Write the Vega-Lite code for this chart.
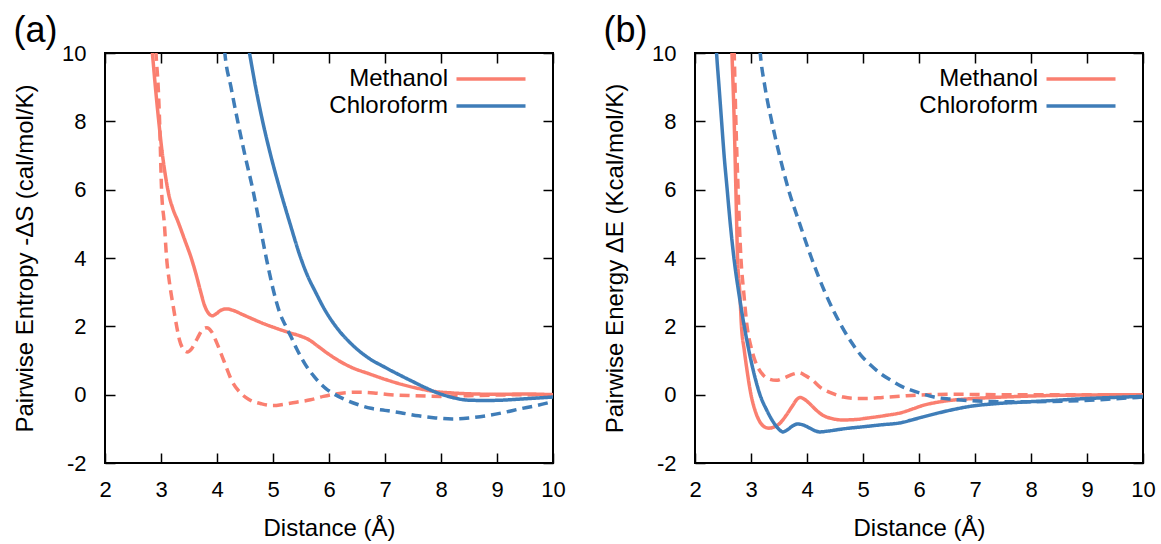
{
 "$schema": "https://vega.github.io/schema/vega-lite/v6.json",
 "background": "white",
 "padding": {"left": 12, "top": 12, "right": 15, "bottom": 0},
 "bounds": "flush",
 "spacing": 142,
 "config": {
  "font": "Liberation Sans",
  "view": {"stroke": "black", "strokeWidth": 2},
  "axis": {"grid": false, "domain": false, "ticks": true, "tickSize": -10, "tickColor": "black", "tickWidth": 1.5,
   "labelFont": "Liberation Sans", "labelFontSize": 22, "labelColor": "black", "labelPadding": 29, "labelFlush": false,
   "labelExpr": "'' + datum.value",
   "titleFont": "Liberation Sans", "titleFontSize": 24, "titleFontWeight": "normal", "titleColor": "black"},
  "axisX": {"labelPadding": 26, "titlePadding": 16},
  "legend": {"symbolType": "M-4,0H4", "symbolSize": 297.6, "symbolStrokeWidth": 3.5,
   "labelFont": "Liberation Sans", "labelFontSize": 24, "labelColor": "black", "labelAlign": "right", "labelOffset": -55,
   "rowPadding": 3, "padding": 0},
  "title": {"font": "Liberation Sans", "fontSize": 36, "fontWeight": "normal", "color": "black", "anchor": "start", "frame": "bounds"}
 },
 "data": {"values": [
  {"panel":"a","solvent":"Methanol","curve":"A","x":2.79,"y":11},
  {"panel":"a","solvent":"Methanol","curve":"A","x":2.846,"y":10},
  {"panel":"a","solvent":"Methanol","curve":"A","x":2.9,"y":9},
  {"panel":"a","solvent":"Methanol","curve":"A","x":2.96,"y":8},
  {"panel":"a","solvent":"Methanol","curve":"A","x":3.02,"y":7.1},
  {"panel":"a","solvent":"Methanol","curve":"A","x":3.08,"y":6.4},
  {"panel":"a","solvent":"Methanol","curve":"A","x":3.14,"y":5.85},
  {"panel":"a","solvent":"Methanol","curve":"A","x":3.21,"y":5.45},
  {"panel":"a","solvent":"Methanol","curve":"A","x":3.3,"y":5.08},
  {"panel":"a","solvent":"Methanol","curve":"A","x":3.43,"y":4.5},
  {"panel":"a","solvent":"Methanol","curve":"A","x":3.54,"y":4.0},
  {"panel":"a","solvent":"Methanol","curve":"A","x":3.63,"y":3.5},
  {"panel":"a","solvent":"Methanol","curve":"A","x":3.71,"y":3.0},
  {"panel":"a","solvent":"Methanol","curve":"A","x":3.78,"y":2.6},
  {"panel":"a","solvent":"Methanol","curve":"A","x":3.85,"y":2.38},
  {"panel":"a","solvent":"Methanol","curve":"A","x":3.92,"y":2.31},
  {"panel":"a","solvent":"Methanol","curve":"A","x":3.98,"y":2.36},
  {"panel":"a","solvent":"Methanol","curve":"A","x":4.06,"y":2.46},
  {"panel":"a","solvent":"Methanol","curve":"A","x":4.17,"y":2.51},
  {"panel":"a","solvent":"Methanol","curve":"A","x":4.3,"y":2.46},
  {"panel":"a","solvent":"Methanol","curve":"A","x":4.45,"y":2.35},
  {"panel":"a","solvent":"Methanol","curve":"A","x":4.63,"y":2.22},
  {"panel":"a","solvent":"Methanol","curve":"A","x":4.8,"y":2.1},
  {"panel":"a","solvent":"Methanol","curve":"A","x":5.03,"y":1.96},
  {"panel":"a","solvent":"Methanol","curve":"A","x":5.32,"y":1.8},
  {"panel":"a","solvent":"Methanol","curve":"A","x":5.5,"y":1.71},
  {"panel":"a","solvent":"Methanol","curve":"A","x":5.65,"y":1.6},
  {"panel":"a","solvent":"Methanol","curve":"A","x":5.8,"y":1.42},
  {"panel":"a","solvent":"Methanol","curve":"A","x":6.0,"y":1.18},
  {"panel":"a","solvent":"Methanol","curve":"A","x":6.2,"y":0.97},
  {"panel":"a","solvent":"Methanol","curve":"A","x":6.4,"y":0.8},
  {"panel":"a","solvent":"Methanol","curve":"A","x":6.7,"y":0.62},
  {"panel":"a","solvent":"Methanol","curve":"A","x":7.0,"y":0.45},
  {"panel":"a","solvent":"Methanol","curve":"A","x":7.3,"y":0.3},
  {"panel":"a","solvent":"Methanol","curve":"A","x":7.6,"y":0.18},
  {"panel":"a","solvent":"Methanol","curve":"A","x":7.9,"y":0.09},
  {"panel":"a","solvent":"Methanol","curve":"A","x":8.2,"y":0.05},
  {"panel":"a","solvent":"Methanol","curve":"A","x":8.6,"y":0.02},
  {"panel":"a","solvent":"Methanol","curve":"A","x":9.0,"y":0.01},
  {"panel":"a","solvent":"Methanol","curve":"A","x":9.5,"y":0.02},
  {"panel":"a","solvent":"Methanol","curve":"A","x":10,"y":0.0},

  {"panel":"a","solvent":"Methanol","curve":"B","x":2.88,"y":11},
  {"panel":"a","solvent":"Methanol","curve":"B","x":2.91,"y":10},
  {"panel":"a","solvent":"Methanol","curve":"B","x":2.95,"y":9},
  {"panel":"a","solvent":"Methanol","curve":"B","x":2.975,"y":8},
  {"panel":"a","solvent":"Methanol","curve":"B","x":3.01,"y":6},
  {"panel":"a","solvent":"Methanol","curve":"B","x":3.06,"y":5},
  {"panel":"a","solvent":"Methanol","curve":"B","x":3.1,"y":4.0},
  {"panel":"a","solvent":"Methanol","curve":"B","x":3.15,"y":3.3},
  {"panel":"a","solvent":"Methanol","curve":"B","x":3.22,"y":2.57},
  {"panel":"a","solvent":"Methanol","curve":"B","x":3.28,"y":2.0},
  {"panel":"a","solvent":"Methanol","curve":"B","x":3.33,"y":1.6},
  {"panel":"a","solvent":"Methanol","curve":"B","x":3.4,"y":1.33},
  {"panel":"a","solvent":"Methanol","curve":"B","x":3.47,"y":1.25},
  {"panel":"a","solvent":"Methanol","curve":"B","x":3.55,"y":1.35},
  {"panel":"a","solvent":"Methanol","curve":"B","x":3.65,"y":1.65},
  {"panel":"a","solvent":"Methanol","curve":"B","x":3.75,"y":1.92},
  {"panel":"a","solvent":"Methanol","curve":"B","x":3.82,"y":1.96},
  {"panel":"a","solvent":"Methanol","curve":"B","x":3.9,"y":1.85},
  {"panel":"a","solvent":"Methanol","curve":"B","x":4.0,"y":1.5},
  {"panel":"a","solvent":"Methanol","curve":"B","x":4.12,"y":1.0},
  {"panel":"a","solvent":"Methanol","curve":"B","x":4.27,"y":0.39},
  {"panel":"a","solvent":"Methanol","curve":"B","x":4.42,"y":0.05},
  {"panel":"a","solvent":"Methanol","curve":"B","x":4.57,"y":-0.14},
  {"panel":"a","solvent":"Methanol","curve":"B","x":4.8,"y":-0.27},
  {"panel":"a","solvent":"Methanol","curve":"B","x":5.0,"y":-0.32},
  {"panel":"a","solvent":"Methanol","curve":"B","x":5.2,"y":-0.28},
  {"panel":"a","solvent":"Methanol","curve":"B","x":5.42,"y":-0.22},
  {"panel":"a","solvent":"Methanol","curve":"B","x":5.67,"y":-0.15},
  {"panel":"a","solvent":"Methanol","curve":"B","x":5.9,"y":-0.05},
  {"panel":"a","solvent":"Methanol","curve":"B","x":6.15,"y":0.03},
  {"panel":"a","solvent":"Methanol","curve":"B","x":6.5,"y":0.07},
  {"panel":"a","solvent":"Methanol","curve":"B","x":6.8,"y":0.05},
  {"panel":"a","solvent":"Methanol","curve":"B","x":7.1,"y":0.0},
  {"panel":"a","solvent":"Methanol","curve":"B","x":7.5,"y":-0.03},
  {"panel":"a","solvent":"Methanol","curve":"B","x":8.0,"y":-0.05},
  {"panel":"a","solvent":"Methanol","curve":"B","x":8.5,"y":-0.03},
  {"panel":"a","solvent":"Methanol","curve":"B","x":9.0,"y":-0.01},
  {"panel":"a","solvent":"Methanol","curve":"B","x":10,"y":0.0},

  {"panel":"a","solvent":"Chloroform","curve":"A","x":4.47,"y":11},
  {"panel":"a","solvent":"Chloroform","curve":"A","x":4.58,"y":10},
  {"panel":"a","solvent":"Chloroform","curve":"A","x":4.69,"y":9},
  {"panel":"a","solvent":"Chloroform","curve":"A","x":4.815,"y":8},
  {"panel":"a","solvent":"Chloroform","curve":"A","x":4.96,"y":7},
  {"panel":"a","solvent":"Chloroform","curve":"A","x":5.125,"y":6},
  {"panel":"a","solvent":"Chloroform","curve":"A","x":5.305,"y":5},
  {"panel":"a","solvent":"Chloroform","curve":"A","x":5.495,"y":4.0},
  {"panel":"a","solvent":"Chloroform","curve":"A","x":5.62,"y":3.47},
  {"panel":"a","solvent":"Chloroform","curve":"A","x":5.76,"y":3.0},
  {"panel":"a","solvent":"Chloroform","curve":"A","x":5.93,"y":2.47},
  {"panel":"a","solvent":"Chloroform","curve":"A","x":6.12,"y":2.0},
  {"panel":"a","solvent":"Chloroform","curve":"A","x":6.39,"y":1.5},
  {"panel":"a","solvent":"Chloroform","curve":"A","x":6.7,"y":1.08},
  {"panel":"a","solvent":"Chloroform","curve":"A","x":7.0,"y":0.8},
  {"panel":"a","solvent":"Chloroform","curve":"A","x":7.28,"y":0.56},
  {"panel":"a","solvent":"Chloroform","curve":"A","x":7.5,"y":0.38},
  {"panel":"a","solvent":"Chloroform","curve":"A","x":7.74,"y":0.19},
  {"panel":"a","solvent":"Chloroform","curve":"A","x":7.94,"y":0.05},
  {"panel":"a","solvent":"Chloroform","curve":"A","x":8.2,"y":-0.08},
  {"panel":"a","solvent":"Chloroform","curve":"A","x":8.48,"y":-0.16},
  {"panel":"a","solvent":"Chloroform","curve":"A","x":8.8,"y":-0.17},
  {"panel":"a","solvent":"Chloroform","curve":"A","x":9.1,"y":-0.16},
  {"panel":"a","solvent":"Chloroform","curve":"A","x":9.5,"y":-0.12},
  {"panel":"a","solvent":"Chloroform","curve":"A","x":10,"y":-0.07},

  {"panel":"a","solvent":"Chloroform","curve":"B","x":4.09,"y":11},
  {"panel":"a","solvent":"Chloroform","curve":"B","x":4.14,"y":10},
  {"panel":"a","solvent":"Chloroform","curve":"B","x":4.25,"y":9},
  {"panel":"a","solvent":"Chloroform","curve":"B","x":4.37,"y":8},
  {"panel":"a","solvent":"Chloroform","curve":"B","x":4.5,"y":7},
  {"panel":"a","solvent":"Chloroform","curve":"B","x":4.64,"y":6},
  {"panel":"a","solvent":"Chloroform","curve":"B","x":4.76,"y":5},
  {"panel":"a","solvent":"Chloroform","curve":"B","x":4.88,"y":4},
  {"panel":"a","solvent":"Chloroform","curve":"B","x":5.0,"y":3.1},
  {"panel":"a","solvent":"Chloroform","curve":"B","x":5.12,"y":2.4},
  {"panel":"a","solvent":"Chloroform","curve":"B","x":5.23,"y":2.0},
  {"panel":"a","solvent":"Chloroform","curve":"B","x":5.32,"y":1.7},
  {"panel":"a","solvent":"Chloroform","curve":"B","x":5.42,"y":1.35},
  {"panel":"a","solvent":"Chloroform","curve":"B","x":5.57,"y":0.9},
  {"panel":"a","solvent":"Chloroform","curve":"B","x":5.74,"y":0.52},
  {"panel":"a","solvent":"Chloroform","curve":"B","x":5.95,"y":0.17},
  {"panel":"a","solvent":"Chloroform","curve":"B","x":6.09,"y":0.02},
  {"panel":"a","solvent":"Chloroform","curve":"B","x":6.28,"y":-0.14},
  {"panel":"a","solvent":"Chloroform","curve":"B","x":6.5,"y":-0.28},
  {"panel":"a","solvent":"Chloroform","curve":"B","x":6.75,"y":-0.4},
  {"panel":"a","solvent":"Chloroform","curve":"B","x":7.0,"y":-0.46},
  {"panel":"a","solvent":"Chloroform","curve":"B","x":7.28,"y":-0.53},
  {"panel":"a","solvent":"Chloroform","curve":"B","x":7.6,"y":-0.62},
  {"panel":"a","solvent":"Chloroform","curve":"B","x":7.9,"y":-0.68},
  {"panel":"a","solvent":"Chloroform","curve":"B","x":8.2,"y":-0.71},
  {"panel":"a","solvent":"Chloroform","curve":"B","x":8.5,"y":-0.68},
  {"panel":"a","solvent":"Chloroform","curve":"B","x":8.8,"y":-0.62},
  {"panel":"a","solvent":"Chloroform","curve":"B","x":9.1,"y":-0.53},
  {"panel":"a","solvent":"Chloroform","curve":"B","x":9.4,"y":-0.42},
  {"panel":"a","solvent":"Chloroform","curve":"B","x":9.7,"y":-0.32},
  {"panel":"a","solvent":"Chloroform","curve":"B","x":10,"y":-0.2},

  {"panel":"b","solvent":"Methanol","curve":"A","x":2.64,"y":11},
  {"panel":"b","solvent":"Methanol","curve":"A","x":2.66,"y":10},
  {"panel":"b","solvent":"Methanol","curve":"A","x":2.7,"y":8},
  {"panel":"b","solvent":"Methanol","curve":"A","x":2.73,"y":6},
  {"panel":"b","solvent":"Methanol","curve":"A","x":2.76,"y":4},
  {"panel":"b","solvent":"Methanol","curve":"A","x":2.8,"y":3},
  {"panel":"b","solvent":"Methanol","curve":"A","x":2.83,"y":2},
  {"panel":"b","solvent":"Methanol","curve":"A","x":2.88,"y":1.3},
  {"panel":"b","solvent":"Methanol","curve":"A","x":2.93,"y":0.7},
  {"panel":"b","solvent":"Methanol","curve":"A","x":3.0,"y":0.0},
  {"panel":"b","solvent":"Methanol","curve":"A","x":3.07,"y":-0.45},
  {"panel":"b","solvent":"Methanol","curve":"A","x":3.15,"y":-0.77},
  {"panel":"b","solvent":"Methanol","curve":"A","x":3.23,"y":-0.93},
  {"panel":"b","solvent":"Methanol","curve":"A","x":3.32,"y":-0.98},
  {"panel":"b","solvent":"Methanol","curve":"A","x":3.42,"y":-0.94},
  {"panel":"b","solvent":"Methanol","curve":"A","x":3.52,"y":-0.83},
  {"panel":"b","solvent":"Methanol","curve":"A","x":3.63,"y":-0.6},
  {"panel":"b","solvent":"Methanol","curve":"A","x":3.74,"y":-0.33},
  {"panel":"b","solvent":"Methanol","curve":"A","x":3.83,"y":-0.12},
  {"panel":"b","solvent":"Methanol","curve":"A","x":3.88,"y":-0.08},
  {"panel":"b","solvent":"Methanol","curve":"A","x":3.94,"y":-0.12},
  {"panel":"b","solvent":"Methanol","curve":"A","x":4.04,"y":-0.25},
  {"panel":"b","solvent":"Methanol","curve":"A","x":4.15,"y":-0.43},
  {"panel":"b","solvent":"Methanol","curve":"A","x":4.28,"y":-0.6},
  {"panel":"b","solvent":"Methanol","curve":"A","x":4.45,"y":-0.7},
  {"panel":"b","solvent":"Methanol","curve":"A","x":4.62,"y":-0.74},
  {"panel":"b","solvent":"Methanol","curve":"A","x":4.85,"y":-0.73},
  {"panel":"b","solvent":"Methanol","curve":"A","x":5.1,"y":-0.68},
  {"panel":"b","solvent":"Methanol","curve":"A","x":5.4,"y":-0.61},
  {"panel":"b","solvent":"Methanol","curve":"A","x":5.7,"y":-0.52},
  {"panel":"b","solvent":"Methanol","curve":"A","x":5.9,"y":-0.41},
  {"panel":"b","solvent":"Methanol","curve":"A","x":6.1,"y":-0.3},
  {"panel":"b","solvent":"Methanol","curve":"A","x":6.3,"y":-0.23},
  {"panel":"b","solvent":"Methanol","curve":"A","x":6.6,"y":-0.16},
  {"panel":"b","solvent":"Methanol","curve":"A","x":7.0,"y":-0.11},
  {"panel":"b","solvent":"Methanol","curve":"A","x":7.5,"y":-0.07},
  {"panel":"b","solvent":"Methanol","curve":"A","x":8.0,"y":-0.04},
  {"panel":"b","solvent":"Methanol","curve":"A","x":8.5,"y":-0.02},
  {"panel":"b","solvent":"Methanol","curve":"A","x":9.0,"y":-0.01},
  {"panel":"b","solvent":"Methanol","curve":"A","x":10,"y":0.0},

  {"panel":"b","solvent":"Methanol","curve":"B","x":2.68,"y":11},
  {"panel":"b","solvent":"Methanol","curve":"B","x":2.7,"y":10},
  {"panel":"b","solvent":"Methanol","curve":"B","x":2.73,"y":8},
  {"panel":"b","solvent":"Methanol","curve":"B","x":2.77,"y":6},
  {"panel":"b","solvent":"Methanol","curve":"B","x":2.82,"y":4},
  {"panel":"b","solvent":"Methanol","curve":"B","x":2.87,"y":3},
  {"panel":"b","solvent":"Methanol","curve":"B","x":2.93,"y":2},
  {"panel":"b","solvent":"Methanol","curve":"B","x":3.0,"y":1.4},
  {"panel":"b","solvent":"Methanol","curve":"B","x":3.06,"y":1.05},
  {"panel":"b","solvent":"Methanol","curve":"B","x":3.14,"y":0.75},
  {"panel":"b","solvent":"Methanol","curve":"B","x":3.22,"y":0.57},
  {"panel":"b","solvent":"Methanol","curve":"B","x":3.32,"y":0.46},
  {"panel":"b","solvent":"Methanol","curve":"B","x":3.45,"y":0.42},
  {"panel":"b","solvent":"Methanol","curve":"B","x":3.6,"y":0.5},
  {"panel":"b","solvent":"Methanol","curve":"B","x":3.75,"y":0.6},
  {"panel":"b","solvent":"Methanol","curve":"B","x":3.86,"y":0.64},
  {"panel":"b","solvent":"Methanol","curve":"B","x":3.98,"y":0.55},
  {"panel":"b","solvent":"Methanol","curve":"B","x":4.1,"y":0.42},
  {"panel":"b","solvent":"Methanol","curve":"B","x":4.25,"y":0.2},
  {"panel":"b","solvent":"Methanol","curve":"B","x":4.43,"y":0.05},
  {"panel":"b","solvent":"Methanol","curve":"B","x":4.65,"y":-0.07},
  {"panel":"b","solvent":"Methanol","curve":"B","x":4.85,"y":-0.11},
  {"panel":"b","solvent":"Methanol","curve":"B","x":5.1,"y":-0.11},
  {"panel":"b","solvent":"Methanol","curve":"B","x":5.35,"y":-0.08},
  {"panel":"b","solvent":"Methanol","curve":"B","x":5.7,"y":-0.04},
  {"panel":"b","solvent":"Methanol","curve":"B","x":6.0,"y":-0.01},
  {"panel":"b","solvent":"Methanol","curve":"B","x":6.6,"y":0.01},
  {"panel":"b","solvent":"Methanol","curve":"B","x":7.5,"y":0.0},
  {"panel":"b","solvent":"Methanol","curve":"B","x":8.5,"y":0.0},
  {"panel":"b","solvent":"Methanol","curve":"B","x":10,"y":0.0},

  {"panel":"b","solvent":"Chloroform","curve":"A","x":2.35,"y":11},
  {"panel":"b","solvent":"Chloroform","curve":"A","x":2.385,"y":10},
  {"panel":"b","solvent":"Chloroform","curve":"A","x":2.43,"y":9},
  {"panel":"b","solvent":"Chloroform","curve":"A","x":2.475,"y":8},
  {"panel":"b","solvent":"Chloroform","curve":"A","x":2.52,"y":7},
  {"panel":"b","solvent":"Chloroform","curve":"A","x":2.575,"y":6},
  {"panel":"b","solvent":"Chloroform","curve":"A","x":2.63,"y":5},
  {"panel":"b","solvent":"Chloroform","curve":"A","x":2.695,"y":4},
  {"panel":"b","solvent":"Chloroform","curve":"A","x":2.78,"y":3},
  {"panel":"b","solvent":"Chloroform","curve":"A","x":2.88,"y":2},
  {"panel":"b","solvent":"Chloroform","curve":"A","x":3.0,"y":1.0},
  {"panel":"b","solvent":"Chloroform","curve":"A","x":3.08,"y":0.45},
  {"panel":"b","solvent":"Chloroform","curve":"A","x":3.16,"y":0.0},
  {"panel":"b","solvent":"Chloroform","curve":"A","x":3.28,"y":-0.45},
  {"panel":"b","solvent":"Chloroform","curve":"A","x":3.39,"y":-0.78},
  {"panel":"b","solvent":"Chloroform","curve":"A","x":3.48,"y":-0.98},
  {"panel":"b","solvent":"Chloroform","curve":"A","x":3.57,"y":-1.09},
  {"panel":"b","solvent":"Chloroform","curve":"A","x":3.65,"y":-1.03},
  {"panel":"b","solvent":"Chloroform","curve":"A","x":3.74,"y":-0.92},
  {"panel":"b","solvent":"Chloroform","curve":"A","x":3.83,"y":-0.86},
  {"panel":"b","solvent":"Chloroform","curve":"A","x":3.92,"y":-0.88},
  {"panel":"b","solvent":"Chloroform","curve":"A","x":4.04,"y":-0.97},
  {"panel":"b","solvent":"Chloroform","curve":"A","x":4.15,"y":-1.06},
  {"panel":"b","solvent":"Chloroform","curve":"A","x":4.23,"y":-1.09},
  {"panel":"b","solvent":"Chloroform","curve":"A","x":4.35,"y":-1.07},
  {"panel":"b","solvent":"Chloroform","curve":"A","x":4.7,"y":-0.99},
  {"panel":"b","solvent":"Chloroform","curve":"A","x":5.0,"y":-0.94},
  {"panel":"b","solvent":"Chloroform","curve":"A","x":5.34,"y":-0.88},
  {"panel":"b","solvent":"Chloroform","curve":"A","x":5.68,"y":-0.82},
  {"panel":"b","solvent":"Chloroform","curve":"A","x":5.85,"y":-0.75},
  {"panel":"b","solvent":"Chloroform","curve":"A","x":6.05,"y":-0.66},
  {"panel":"b","solvent":"Chloroform","curve":"A","x":6.31,"y":-0.55},
  {"panel":"b","solvent":"Chloroform","curve":"A","x":6.6,"y":-0.44},
  {"panel":"b","solvent":"Chloroform","curve":"A","x":6.96,"y":-0.33},
  {"panel":"b","solvent":"Chloroform","curve":"A","x":7.4,"y":-0.26},
  {"panel":"b","solvent":"Chloroform","curve":"A","x":7.94,"y":-0.21},
  {"panel":"b","solvent":"Chloroform","curve":"A","x":8.4,"y":-0.17},
  {"panel":"b","solvent":"Chloroform","curve":"A","x":8.91,"y":-0.12},
  {"panel":"b","solvent":"Chloroform","curve":"A","x":9.5,"y":-0.08},
  {"panel":"b","solvent":"Chloroform","curve":"A","x":10,"y":-0.05},

  {"panel":"b","solvent":"Chloroform","curve":"B","x":3.12,"y":11},
  {"panel":"b","solvent":"Chloroform","curve":"B","x":3.165,"y":10},
  {"panel":"b","solvent":"Chloroform","curve":"B","x":3.25,"y":9},
  {"panel":"b","solvent":"Chloroform","curve":"B","x":3.37,"y":8},
  {"panel":"b","solvent":"Chloroform","curve":"B","x":3.51,"y":7},
  {"panel":"b","solvent":"Chloroform","curve":"B","x":3.67,"y":6},
  {"panel":"b","solvent":"Chloroform","curve":"B","x":3.87,"y":5},
  {"panel":"b","solvent":"Chloroform","curve":"B","x":4.08,"y":4},
  {"panel":"b","solvent":"Chloroform","curve":"B","x":4.32,"y":3},
  {"panel":"b","solvent":"Chloroform","curve":"B","x":4.62,"y":2},
  {"panel":"b","solvent":"Chloroform","curve":"B","x":4.79,"y":1.54},
  {"panel":"b","solvent":"Chloroform","curve":"B","x":4.96,"y":1.16},
  {"panel":"b","solvent":"Chloroform","curve":"B","x":5.14,"y":0.86},
  {"panel":"b","solvent":"Chloroform","curve":"B","x":5.32,"y":0.61},
  {"panel":"b","solvent":"Chloroform","curve":"B","x":5.5,"y":0.42},
  {"panel":"b","solvent":"Chloroform","curve":"B","x":5.68,"y":0.25},
  {"panel":"b","solvent":"Chloroform","curve":"B","x":5.86,"y":0.13},
  {"panel":"b","solvent":"Chloroform","curve":"B","x":6.05,"y":0.03},
  {"panel":"b","solvent":"Chloroform","curve":"B","x":6.27,"y":-0.07},
  {"panel":"b","solvent":"Chloroform","curve":"B","x":6.55,"y":-0.13},
  {"panel":"b","solvent":"Chloroform","curve":"B","x":6.87,"y":-0.17},
  {"panel":"b","solvent":"Chloroform","curve":"B","x":7.3,"y":-0.2},
  {"panel":"b","solvent":"Chloroform","curve":"B","x":7.76,"y":-0.21},
  {"panel":"b","solvent":"Chloroform","curve":"B","x":8.3,"y":-0.2},
  {"panel":"b","solvent":"Chloroform","curve":"B","x":8.95,"y":-0.17},
  {"panel":"b","solvent":"Chloroform","curve":"B","x":9.5,"y":-0.12},
  {"panel":"b","solvent":"Chloroform","curve":"B","x":10,"y":-0.07}
 ]},
 "resolve": {"scale": {"color": "independent", "strokeDash": "independent", "x": "independent", "y": "independent"}, "legend": {"color": "independent"}},
 "hconcat": [
  {
   "width": 448, "height": 410,
   "title": {"text": "(a)", "offset": -8},
   "transform": [{"filter": "datum.panel === 'a'"}],
   "layer": [
    {"mark": {"type": "line", "clip": true, "strokeWidth": 3.5, "interpolate": "monotone"},
     "encoding": {
      "x": {"field": "x", "type": "quantitative", "scale": {"domain": [2, 10], "nice": false, "zero": false},
            "axis": {"title": "Distance (Å)", "values": [2,3,4,5,6,7,8,9,10]}},
      "y": {"field": "y", "type": "quantitative", "scale": {"domain": [-2, 10], "nice": false, "zero": false},
            "axis": {"title": "Pairwise Entropy -ΔS (cal/mol/K)", "values": [-2,0,2,4,6,8,10], "titlePadding": 24}},
      "color": {"field": "solvent", "type": "nominal", "scale": {"domain": ["Methanol", "Chloroform"], "range": ["#FA7F70", "#3F7DB8"]},
                "legend": {"title": null, "orient": "none", "legendX": 374, "legendY": 14}},
      "strokeDash": {"field": "curve", "type": "nominal", "scale": {"domain": ["A", "B"], "range": [[1, 0], [10, 6]]}, "legend": null}
     }},
    {"mark": {"type": "point", "opacity": 0, "clip": true},
     "encoding": {
      "x": {"field": "x", "type": "quantitative", "scale": {"domain": [2, 10], "nice": false, "zero": false},
            "axis": {"orient": "top", "labels": false, "title": null, "values": [2,3,4,5,6,7,8,9,10]}},
      "y": {"field": "y", "type": "quantitative", "scale": {"domain": [-2, 10], "nice": false, "zero": false},
            "axis": {"orient": "right", "labels": false, "title": null, "values": [-2,0,2,4,6,8,10]}}
     }}
   ],
   "resolve": {"axis": {"x": "independent", "y": "independent"}}
  },
  {
   "width": 448, "height": 410,
   "title": {"text": "(b)", "offset": -8},
   "transform": [{"filter": "datum.panel === 'b'"}],
   "layer": [
    {"mark": {"type": "line", "clip": true, "strokeWidth": 3.5, "interpolate": "monotone"},
     "encoding": {
      "x": {"field": "x", "type": "quantitative", "scale": {"domain": [2, 10], "nice": false, "zero": false},
            "axis": {"title": "Distance (Å)", "values": [2,3,4,5,6,7,8,9,10]}},
      "y": {"field": "y", "type": "quantitative", "scale": {"domain": [-2, 10], "nice": false, "zero": false},
            "axis": {"title": "Pairwise Energy ΔE (Kcal/mol/K)", "values": [-2,0,2,4,6,8,10], "titlePadding": 24}},
      "color": {"field": "solvent", "type": "nominal", "scale": {"domain": ["Methanol", "Chloroform"], "range": ["#FA7F70", "#3F7DB8"]},
                "legend": {"title": null, "orient": "none", "legendX": 374, "legendY": 14}},
      "strokeDash": {"field": "curve", "type": "nominal", "scale": {"domain": ["A", "B"], "range": [[1, 0], [10, 6]]}, "legend": null}
     }},
    {"mark": {"type": "point", "opacity": 0, "clip": true},
     "encoding": {
      "x": {"field": "x", "type": "quantitative", "scale": {"domain": [2, 10], "nice": false, "zero": false},
            "axis": {"orient": "top", "labels": false, "title": null, "values": [2,3,4,5,6,7,8,9,10]}},
      "y": {"field": "y", "type": "quantitative", "scale": {"domain": [-2, 10], "nice": false, "zero": false},
            "axis": {"orient": "right", "labels": false, "title": null, "values": [-2,0,2,4,6,8,10]}}
     }}
   ],
   "resolve": {"axis": {"x": "independent", "y": "independent"}}
  }
 ]
}
